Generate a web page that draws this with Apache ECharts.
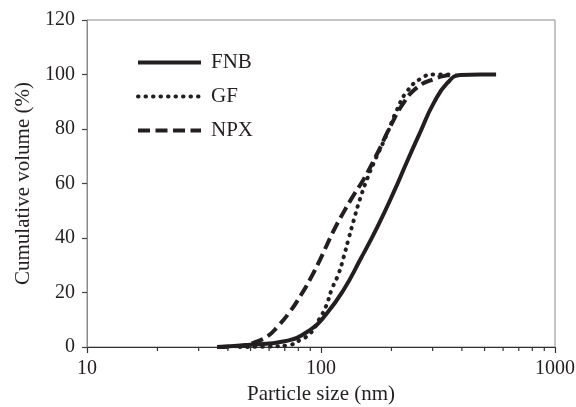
<!DOCTYPE html>
<html>
<head>
<meta charset="utf-8">
<script src="https://cdn.jsdelivr.net/npm/echarts@6/dist/echarts.min.js"></script>
<style>
  html, body { margin: 0; padding: 0; background: #fff; }
  #chart { width: 576px; height: 407px; }
</style>
</head>
<body>
<div id="chart"></div>
<script>
// particle size (nm) vs cumulative volume (%)
const fnbSize = [36, 50, 69, 90, 106, 125, 147, 174, 205, 233, 266, 303, 346, 394, 480, 560];
const fnbVol  = [0, 0.8, 2, 6.3, 12.4, 21, 32, 44, 57, 68, 79, 89.5, 96.8, 99.8, 100, 100];

const gfSize = [45, 60, 72, 82, 90, 98, 105, 111, 119, 125, 131, 138, 147, 158, 168, 191, 211, 233, 266, 303, 360];
const gfVol  = [0, 0.2, 0.6, 2.7, 5, 10, 14.9, 21, 27, 33, 39.5, 46.5, 54.5, 62, 67.5, 78, 87, 93.8, 98.4, 100, 100];

const npxSize = [36, 47, 53, 59, 65, 74, 82, 90, 99, 113, 125, 138, 152, 174, 198, 225, 257, 303, 346, 375];
const npxVol  = [0, 0.6, 2, 3.9, 7.3, 13.2, 19, 25, 32, 42.5, 49.5, 55.8, 61.5, 71, 81, 89.5, 95.2, 98.3, 99.7, 100];

const minorTicks = [20, 30, 40, 50, 60, 70, 80, 90, 200, 300, 400, 500, 600, 700, 800, 900];

const font = '"Liberation Serif", "Times New Roman", serif';
const ink = '#231f20';

const pairs = (xs, ys) => xs.map((x, i) => [x, ys[i]]);

const chart = echarts.init(document.getElementById('chart'));

chart.setOption({
  animation: false,
  backgroundColor: '#fff',
  grid: {
    left: 87, right: 21, top: 20, bottom: 60,
    outerBoundsMode: 'none',
    show: true, borderColor: '#8a8a8a', borderWidth: 1
  },
  legend: {
    data: ['FNB', 'GF', 'NPX'],
    orient: 'vertical',
    left: 131, top: 47,
    itemWidth: 63, itemHeight: 20, itemGap: 13,
    itemStyle: { opacity: 0 },
    lineStyle: { width: 4 },
    textStyle: { fontFamily: font, fontSize: 21, color: ink, padding: [0, 0, 0, 5] }
  },
  xAxis: {
    type: 'log', logBase: 10, min: 10, max: 1000,
    name: 'Particle size (nm)', nameLocation: 'middle', nameGap: 29,
    nameTextStyle: { fontFamily: font, fontSize: 21, color: ink },
    axisLine: { lineStyle: { color: '#333', width: 1 } },
    axisTick: { inside: false, length: 6, lineStyle: { color: '#333', width: 1.2 } },
    axisLabel: { fontFamily: font, fontSize: 20, color: ink, margin: 12, formatter: (v) => String(v) },
    splitLine: { show: false }
  },
  yAxis: {
    type: 'value', min: 0, max: 120, interval: 20,
    name: 'Cumulative volume (%)', nameLocation: 'middle', nameGap: 52,
    nameTextStyle: { fontFamily: font, fontSize: 21, color: ink },
    axisLine: { show: true, lineStyle: { color: '#8a8a8a', width: 1 } },
    axisTick: { show: true, inside: false, length: 5, lineStyle: { color: '#444', width: 1.2 } },
    axisLabel: { fontFamily: font, fontSize: 20, color: ink, margin: 12 },
    splitLine: { show: false }
  },
  series: [
    {
      name: 'FNB', type: 'line', smooth: true, symbol: 'none',
      data: pairs(fnbSize, fnbVol),
      color: ink,
      lineStyle: { color: ink, width: 4, type: 'solid' }
    },
    {
      name: 'GF', type: 'line', smooth: true, symbol: 'none',
      data: pairs(gfSize, gfVol),
      color: ink,
      lineStyle: { color: ink, width: 4, type: [0.5, 7], cap: 'round' }
    },
    {
      name: 'NPX', type: 'line', smooth: true, symbol: 'none',
      data: pairs(npxSize, npxVol),
      color: ink,
      lineStyle: { color: ink, width: 4, type: [12, 5.5], cap: 'butt' }
    },
    {
      // minor log ticks below the x axis
      type: 'custom', silent: true, clip: false, z: 5,
      data: minorTicks.map(v => [v, 0]),
      renderItem: (params, api) => {
        const p = api.coord([api.value(0), 0]);
        return {
          type: 'line',
          shape: { x1: p[0], y1: p[1], x2: p[0], y2: p[1] + 4 },
          style: { stroke: '#333', lineWidth: 1.2 }
        };
      }
    }
  ]
});
</script>
</body>
</html>
